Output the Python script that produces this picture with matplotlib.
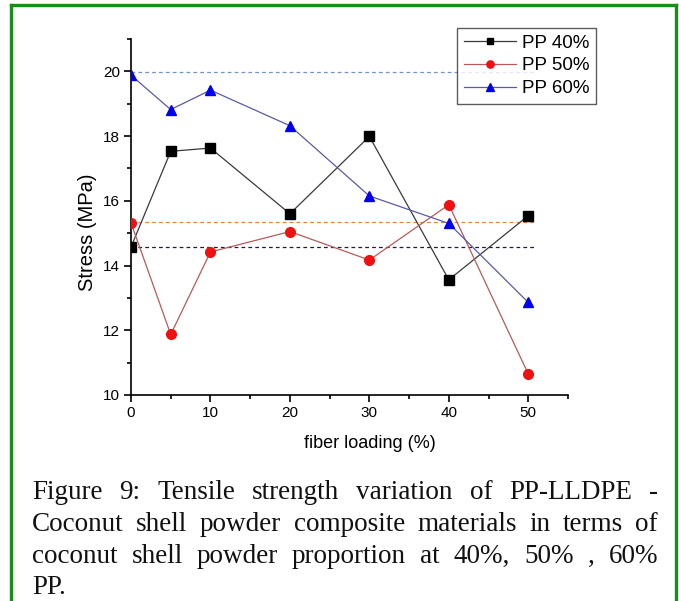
import matplotlib
matplotlib.use("Agg")
import matplotlib.pyplot as plt
from matplotlib.lines import Line2D
from matplotlib.ticker import MultipleLocator

# data
loading = [0, 5, 10, 20, 30, 40, 50]
pp40 = [14.57, 17.53, 17.63, 15.60, 17.99, 13.56, 15.54]
pp50 = [15.32, 11.87, 14.42, 15.05, 14.17, 15.88, 10.65]
pp60 = [19.88, 18.82, 19.42, 18.32, 16.15, 15.30, 12.86]
ref_levels = [14.58, 15.34, 19.97]   # dashed reference lines
series_names = ['PP 40%', 'PP 50%', 'PP 60%']
caption_lines = [
    "Figure 9: Tensile strength variation of PP-LLDPE -",
    "Coconut shell powder composite materials in terms of",
    "coconut shell powder proportion at 40%, 50% , 60%",
    "PP.",
]

plt.rcParams['font.family'] = ['Liberation Sans', 'DejaVu Sans']

fig = plt.figure(figsize=(6.79, 6.01), dpi=100)
ax = fig.add_axes([131/679, 1-395/601, 437/679, 356/601])

# dashed reference lines
for lvl, c in zip(ref_levels, ['#1c1c3c', '#e8803a', '#7090d8']):
    ax.hlines(lvl, 0, 51, colors=c, linestyles=(0, (3, 2.5)), linewidth=0.9, zorder=1)

ax.plot(loading, pp40, color='#3a3a3a', lw=0.9, marker='s', ms=6.5,
        mfc='black', mec='black', label=series_names[0], zorder=3)
ax.plot(loading, pp50, color='#b85a5a', lw=0.9, marker='o', ms=7,
        mfc='#ee1111', mec='#ee1111', label=series_names[1], zorder=3)
ax.plot(loading, pp60, color='#5a5aa8', lw=0.9, marker='^', ms=7.5,
        mfc='#0000ee', mec='#0000ee', label=series_names[2], zorder=3)

ax.set_xlim(0, 55)
ax.set_ylim(10, 21)
ax.xaxis.set_major_locator(MultipleLocator(10))
ax.xaxis.set_minor_locator(MultipleLocator(5))
ax.yaxis.set_major_locator(MultipleLocator(2))
ax.yaxis.set_minor_locator(MultipleLocator(1))
ax.spines['top'].set_visible(False)
ax.spines['right'].set_visible(False)
ax.tick_params(which='major', direction='out', length=5, width=1.2, labelsize=11, pad=3)
ax.tick_params(which='minor', direction='out', length=3, width=1.2)
ax.set_xlabel('fiber loading (%)', fontsize=13)
ax.set_ylabel('Stress (MPa)', fontsize=14.5)
ax.xaxis.set_label_coords(0.547, -0.112)
ax.yaxis.set_label_coords(-0.078, 0.458)
for s in ax.spines.values():
    s.set_linewidth(1.2)

leg = ax.legend(loc='upper right', bbox_to_anchor=(596/679, 1-28/601),
                bbox_transform=fig.transFigure, fontsize=13.5, frameon=True,
                fancybox=False, edgecolor='#333333', handlelength=2.8,
                handletextpad=0.3, borderpad=0.35, labelspacing=0.3,
                markerscale=0.75, borderaxespad=0)
leg.get_frame().set_linewidth(1.0)

# green frame around the figure, open at the bottom
frame_c = '#1a8c1a'
fig.add_artist(Line2D([11/679, 11/679], [0, 1-4.5/601], color=frame_c, lw=2.4, transform=fig.transFigure))
fig.add_artist(Line2D([11/679, 676/679], [1-4.5/601, 1-4.5/601], color=frame_c, lw=2.4, transform=fig.transFigure))
fig.add_artist(Line2D([676/679, 676/679], [0, 1-4.5/601], color=frame_c, lw=2.4, transform=fig.transFigure))

# caption, justified between x=32 and x=658
renderer = fig.canvas.get_renderer()
x0, x1 = 32, 658
baselines = [499, 531, 563, 594]
cap_font = dict(family=['Liberation Serif', 'DejaVu Serif'], fontsize=19.5, color='#111111')
for i, line in enumerate(caption_lines):
    y = 1 - baselines[i]/601
    words = line.split(' ')
    if i == len(caption_lines) - 1:
        fig.text(x0/679, y, line, ha='left', va='baseline', **cap_font)
        continue
    arts = [fig.text(0, y, w, ha='left', va='baseline', **cap_font) for w in words]
    widths = [a.get_window_extent(renderer).width for a in arts]
    gap = (x1 - x0 - sum(widths)) / (len(words) - 1)
    xp = x0
    for a, w in zip(arts, widths):
        a.set_x(xp/679)
        xp += w + gap

fig.savefig('out.png', dpi=100)
